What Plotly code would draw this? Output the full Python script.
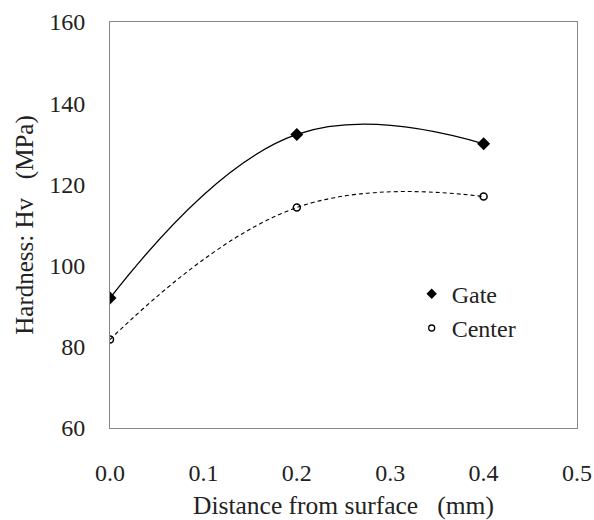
import plotly.graph_objects as go

distance = [0.0, 0.2, 0.4]
gate = [92.0, 132.3, 130.0]
center = [81.8, 114.3, 117.0]

font = "Liberation Serif, Times New Roman, serif"
fig = go.Figure()

# smooth connecting curves
fig.add_trace(go.Scatter(x=distance, y=gate, mode="lines", line=dict(color="black", width=1.3, shape="spline", smoothing=1.2), showlegend=False, hoverinfo="skip"))
fig.add_trace(go.Scatter(x=distance, y=center, mode="lines", line=dict(color="black", width=1.1, dash="4px,3px", shape="spline", smoothing=1.2), showlegend=False, hoverinfo="skip"))

# data markers
fig.add_trace(go.Scatter(x=distance, y=gate, mode="markers", name="Gate", showlegend=False,
                         marker=dict(symbol="diamond", size=10, color="black")))
fig.add_trace(go.Scatter(x=distance, y=center, mode="markers", name="Center", showlegend=False,
                         marker=dict(symbol="circle-open", size=7, color="black", line=dict(width=1.5))))

# legend entries (smaller symbols as in the reference legend)
fig.add_trace(go.Scatter(x=[None], y=[None], mode="markers", name="Gate",
                         marker=dict(symbol="diamond", size=8, color="black")))
fig.add_trace(go.Scatter(x=[None], y=[None], mode="markers", name="Center",
                         marker=dict(symbol="circle-open", size=6, color="black", line=dict(width=1.3))))

fig.update_layout(
    width=594, height=520,
    margin=dict(l=110, r=17, t=22, b=92),
    paper_bgcolor="white", plot_bgcolor="white",
    font=dict(family=font, size=21, color="#222"),
    showlegend=True,
    legend=dict(x=0.646, y=0.385, xanchor="left", yanchor="top", bgcolor="rgba(0,0,0,0)",
                font=dict(size=24), itemwidth=30),
    xaxis=dict(range=[0, 0.5], tickvals=[0, 0.1, 0.2, 0.3, 0.4, 0.5], tickformat=".1f",
               showgrid=False, zeroline=False, showline=True, linecolor="#888", linewidth=1, mirror=True,
               ticks="", ticklabelstandoff=23, automargin=False, tickfont=dict(size=24),
               title=dict(text="Distance from surface\u00a0\u00a0\u00a0(mm)", standoff=12, font=dict(size=25.5))),
    yaxis=dict(range=[60, 160], tickvals=[60, 80, 100, 120, 140, 160],
               showgrid=False, zeroline=False, showline=True, linecolor="#888", linewidth=1, mirror=True,
               ticks="", ticklabelstandoff=19, automargin=False, tickfont=dict(size=24),
               title=dict(text="Hardness: Hv\u00a0\u00a0\u00a0(MPa)", standoff=8, font=dict(size=25))),
)

fig.write_html("out.html", config={"displayModeBar": False},
               post_script="document.body.style.margin='0';document.body.style.overflow='hidden';")
